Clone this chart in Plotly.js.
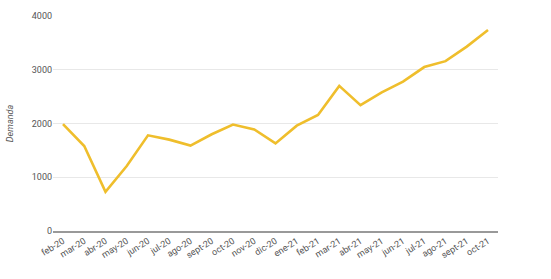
<!DOCTYPE html>
<html><head><meta charset="utf-8">
<script src="https://cdn.plot.ly/plotly-3.0.1.min.js"></script>
<style>html,body{margin:0;padding:0;background:#fff}#c{width:551px;height:279px}</style>
</head><body><div id="c"></div>
<script>
const months = ["feb-20","mar-20","abr-20","may-20","jun-20","jul-20","ago-20","sept-20","oct-20","nov-20","dic-20","ene-21","feb-21","mar-21","abr-21","may-21","jun-21","jul-21","ago-21","sept-21","oct-21"];
const demanda = [1990,1580,730,1210,1780,1700,1590,1800,1980,1890,1630,1960,2160,2700,2340,2580,2780,3050,3160,3430,3740];
const yTicks = [0,1000,2000,3000,4000];

Plotly.newPlot('c', [{
  x: months.map((m,i)=>i), y: demanda, type:'scatter', mode:'lines',
  line:{color:'#EFBE2C', width:2.6}, hoverinfo:'skip'
}], {
  width:551, height:279,
  margin:{l:53, r:53, t:16, b:48},
  paper_bgcolor:'#fff', plot_bgcolor:'#fff',
  showlegend:false,
  font:{family:'Roboto, Arial, sans-serif', size:9, color:'#555'},
  xaxis:{
    range:[-0.47, 20.47], tickmode:'array', tickvals: months.map((m,i)=>i), ticktext: months,
    tickangle:-32, showgrid:false, zeroline:false, showline:true, linecolor:'#999', linewidth:1.5,
    ticks:'', tickfont:{size:9, color:'#555'}
  },
  yaxis:{
    range:[0,4000], tickmode:'array', tickvals:yTicks, showgrid:true, gridcolor:'#e8e8e8',
    zeroline:false, showline:false, ticks:'', tickfont:{size:9, color:'#555'},
    title:{text:'Demanda', font:{size:9, color:'#555', style:'italic'}, standoff:16}
  }
}, {staticPlot:true});
</script></body></html>
